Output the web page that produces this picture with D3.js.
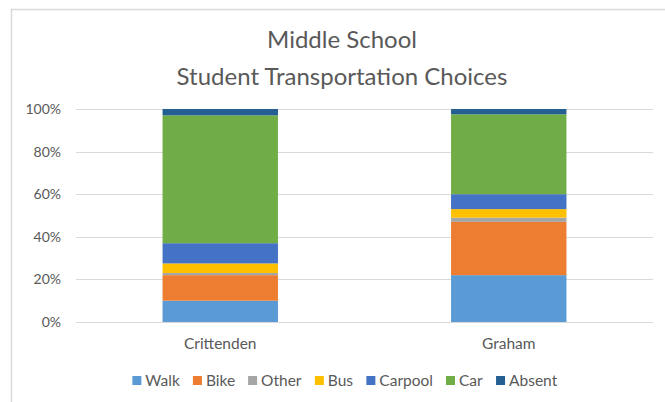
<!DOCTYPE html>
<html>
<head>
<meta charset="utf-8">
<script src="https://cdn.jsdelivr.net/npm/d3@7"></script>
<style>
  body { margin: 0; background: #fff; }
  text { font-family: Lato, "Open Sans", sans-serif; fill: #595959; }
</style>
</head>
<body>
<div id="chart"></div>
<script>
var schools = ['Crittenden', 'Graham'];
var modes = ['Walk', 'Bike', 'Other', 'Bus', 'Carpool', 'Car', 'Absent'];
var colors = ['#5B9BD5', '#ED7D31', '#A5A5A5', '#FFC000', '#4472C4', '#70AD47', '#255E91'];
// percent of students per mode, one value per school
var walk = [10, 22];
var bike = [12, 25];
var other = [1, 2];
var bus = [4.5, 4];
var carpool = [9.5, 7];
var car = [60, 37.5];
var absent = [3, 2.5];
var yTicks = [0, 20, 40, 60, 80, 100];
var titleLines = ['Middle School', 'Student Transportation Choices'];

var width = 665, height = 402;
var margin = {top: 109, right: 12, bottom: 80, left: 76};

var svg = d3.select('#chart').append('svg')
    .attr('width', width)
    .attr('height', height);

// chart frame
svg.append('path')
    .attr('d', 'M11.5,' + height + 'V9.5H' + width)
    .attr('fill', 'none')
    .attr('stroke', '#d9d9d9')
    .attr('stroke-width', 1.5);

var series = [walk, bike, other, bus, carpool, car, absent];
var rows = schools.map(function(s, i) {
    var r = {school: s};
    modes.forEach(function(m, j) { r[m] = series[j][i]; });
    return r;
});
var stacked = d3.stack().keys(modes)(rows);

var x = d3.scaleBand()
    .domain(schools)
    .range([margin.left, width - margin.right])
    .paddingInner(0.6)
    .paddingOuter(0.3);

var y = d3.scaleLinear()
    .domain([0, 100])
    .range([height - margin.bottom, margin.top]);

// gridlines
svg.append('g')
    .selectAll('line')
    .data(yTicks)
    .enter().append('line')
    .attr('x1', margin.left)
    .attr('x2', width - margin.right)
    .attr('y1', function(d) { return Math.round(y(d)) + 0.5; })
    .attr('y2', function(d) { return Math.round(y(d)) + 0.5; })
    .attr('stroke', '#d9d9d9');

// y labels
svg.append('g')
    .selectAll('text')
    .data(yTicks)
    .enter().append('text')
    .attr('x', 61)
    .attr('y', function(d) { return y(d) + 5; })
    .attr('text-anchor', 'end')
    .attr('font-size', 14)
    .text(function(d) { return d + '%'; });

// bars
var layer = svg.selectAll('.layer')
    .data(stacked)
    .enter().append('g')
    .attr('class', 'layer')
    .attr('fill', function(d, i) { return colors[i]; });

layer.selectAll('rect')
    .data(function(d) { return d; })
    .enter().append('rect')
    .attr('x', function(d) { return x(d.data.school); })
    .attr('width', x.bandwidth())
    .attr('y', function(d) { return y(d[1]); })
    .attr('height', function(d) { return y(d[0]) - y(d[1]); });

// x labels
svg.append('g')
    .selectAll('text')
    .data(schools)
    .enter().append('text')
    .attr('x', function(d) { return x(d) + x.bandwidth() / 2; })
    .attr('y', 349)
    .attr('text-anchor', 'middle')
    .attr('font-size', 15.5)
    .text(function(d) { return d; });

// title
svg.append('g')
    .selectAll('text')
    .data(titleLines)
    .enter().append('text')
    .attr('x', 342)
    .attr('y', function(d, i) { return 48 + i * 37; })
    .attr('text-anchor', 'middle')
    .attr('font-size', 24)
    .text(function(d) { return d; });

// legend
var legend = svg.append('g');
var items = legend.selectAll('g')
    .data(modes)
    .enter().append('g');
items.append('rect')
    .attr('width', 9)
    .attr('height', 9)
    .attr('y', 376)
    .attr('fill', function(d, i) { return colors[i]; });
items.append('text')
    .attr('x', 13)
    .attr('y', 386)
    .attr('font-size', 15.5)
    .text(function(d) { return d; });

var gap = 13;
var offset = 0;
items.each(function() {
    var w = this.getBBox().width;
    d3.select(this).attr('transform', 'translate(' + offset + ',0)');
    offset += w + gap;
});
var total = offset - gap;
legend.attr('transform', 'translate(' + (345 - total / 2) + ',0)');
</script>
</body>
</html>
